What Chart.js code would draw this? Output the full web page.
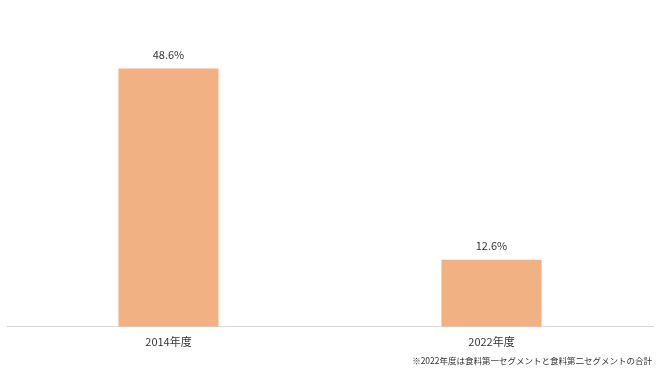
<!DOCTYPE html>
<html>
<head>
<meta charset="utf-8">
<script src="https://cdn.jsdelivr.net/npm/chart.js@4"></script>
<style>
  html,body{margin:0;padding:0;background:#fff;}
  #wrap{width:660px;height:371px;position:relative;}
</style>
</head>
<body>
<div id="wrap"><canvas id="chart"></canvas></div>
<script>
/* data */
const categories=['2014年度','2022年度'];
const shares=[48.6,12.6];
const valueLabels=['48.6%','12.6%'];
const footnote='※2022年度は食料第一セグメントと食料第二セグメントの合計';

const FONT='"Noto Sans CJK JP","Noto Sans",sans-serif';

/* value labels above bars + footnote */
const labelPlugin={
  id:'barLabels',
  afterDatasetsDraw(chart){
    const c=chart.ctx;
    const meta=chart.getDatasetMeta(0);
    c.save();
    c.font='11px '+FONT;
    c.fillStyle='#333';
    c.textAlign='center';
    c.textBaseline='middle';
    meta.data.forEach((bar,i)=>{
      c.fillText(valueLabels[i],bar.x,bar.y-14);
    });
    c.font='8.5px '+FONT;
    c.textAlign='right';
    c.fillText(footnote,chart.width-8,361);
    c.restore();
  }
};

new Chart(document.getElementById('chart'),{
  type:'bar',
  data:{
    labels:categories,
    datasets:[{data:shares,backgroundColor:'#F1B183',borderWidth:0,
      categoryPercentage:1,barPercentage:0.31}]
  },
  plugins:[labelPlugin],
  options:{
    responsive:true,maintainAspectRatio:false,animation:false,
    layout:{padding:{left:7,right:7,top:8,bottom:23}},
    plugins:{legend:{display:false},tooltip:{enabled:false}},
    scales:{
      x:{grid:{display:false},border:{display:true,color:'#d9d9d9',width:1},
        ticks:{font:{family:FONT,size:11},color:'#333',padding:0}},
      y:{display:false,min:0,max:60}
    }
  }
});
</script>
</body>
</html>
